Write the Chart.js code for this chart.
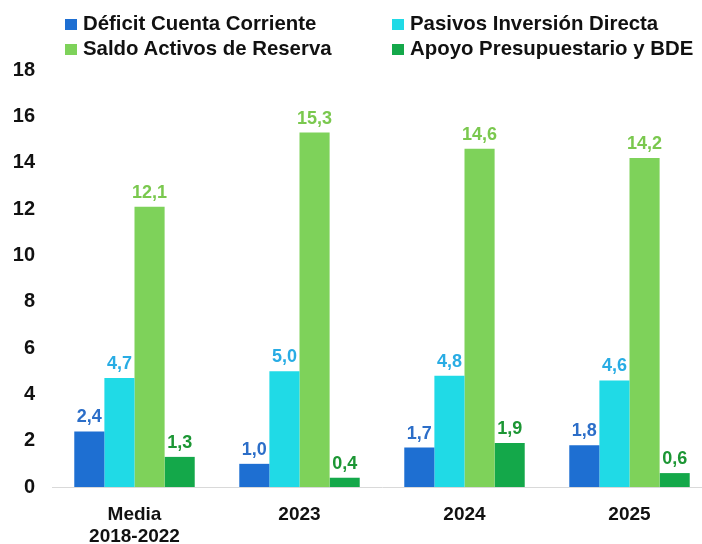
<!DOCTYPE html>
<html>
<head>
<meta charset="utf-8">
<script src="https://cdn.jsdelivr.net/npm/chart.js@4/dist/chart.umd.min.js"></script>
<style>
  html, body { margin: 0; padding: 0; background: #fff; overflow: hidden; }
  #wrap { position: relative; width: 712px; height: 544px; }
  #leyenda { position: absolute; left: 0; top: 0; width: 712px; height: 60px;
             font-family: "Liberation Sans", Arial, sans-serif; font-weight: bold; font-size: 20.4px; color: #111; }
  .item { position: absolute; white-space: nowrap; line-height: 24px; }
  .caja { display: inline-block; width: 12px; height: 11px; margin-right: 6px; vertical-align: 0px; }
</style>
</head>
<body>
<div id="wrap">
  <canvas id="grafico" width="712" height="544"></canvas>
  <div id="leyenda"></div>
</div>
<script>
// datos del grafico
var categorias = [["Media", "2018-2022"], "2023", "2024", "2025"];
var nombres = ["Déficit Cuenta Corriente", "Pasivos Inversión Directa", "Saldo Activos de Reserva", "Apoyo Presupuestario y BDE"];
var deficit = [2.4, 1.0, 1.7, 1.8];
var pasivos = [4.7, 5.0, 4.8, 4.6];
var saldo = [12.1, 15.3, 14.6, 14.2];
var apoyo = [1.3, 0.4, 1.9, 0.6];

var coloresBarra = ["rgb(30,111,210)", "rgb(32,218,230)", "rgb(126,210,90)", "rgb(20,168,74)"];
var coloresTexto = ["rgb(44,110,200)", "rgb(40,172,228)", "rgb(122,200,78)", "rgb(28,150,52)"];

var series = [deficit, pasivos, saldo, apoyo];
var conjuntos = [];
for (var i = 0; i < series.length; i++) {
    conjuntos.push({label: nombres[i], data: series[i], backgroundColor: coloresBarra[i],
                    barPercentage: 1, categoryPercentage: 0.73});
}

// leyenda en dos columnas
var posLeyenda = [[65, 11], [392, 11], [65, 36], [392, 36]];
var ley = document.getElementById("leyenda");
for (var i = 0; i < nombres.length; i++) {
    var d = document.createElement("div");
    d.className = "item";
    d.style.left = posLeyenda[i][0] + "px";
    d.style.top = posLeyenda[i][1] + "px";
    d.innerHTML = "<span class='caja' style='background:" + coloresBarra[i] + "'></span>" + nombres[i];
    ley.appendChild(d);
}

// etiquetas de valor encima de cada barra
var etiquetas = {
    id: "etiquetas",
    afterDatasetsDraw: function(chart) {
        var ctx = chart.ctx;
        ctx.save();
        ctx.font = "bold 18px 'Liberation Sans', Arial, sans-serif";
        ctx.textAlign = "center";
        ctx.textBaseline = "alphabetic";
        chart.data.datasets.forEach(function(ds, k) {
            var meta = chart.getDatasetMeta(k);
            ctx.fillStyle = coloresTexto[k];
            meta.data.forEach(function(barra, j) {
                ctx.fillText(ds.data[j].toFixed(1).replace(".", ","), barra.x, barra.y - 9);
            });
        });
        ctx.restore();
    }
};

new Chart(document.getElementById("grafico"), {
    type: "bar",
    data: {labels: categorias, datasets: conjuntos},
    plugins: [etiquetas],
    options: {
        responsive: false,
        animation: false,
        layout: {padding: {top: 70, right: 0, left: 0, bottom: 0}},
        plugins: {legend: {display: false}, tooltip: {enabled: false}},
        scales: {
            y: {
                min: 0, max: 18,
                ticks: {stepSize: 2, padding: 17, color: "#111",
                        font: {family: "'Liberation Sans', Arial, sans-serif", size: 20, weight: "bold"}},
                grid: {display: false, drawTicks: false},
                border: {display: false},
                afterFit: function(scale) { scale.width = 52; }
            },
            x: {
                ticks: {padding: 8, color: "#111",
                        font: {family: "'Liberation Sans', Arial, sans-serif", size: 19, weight: "bold"}},
                grid: {display: false},
                border: {display: true, color: "#d9d9d9", width: 1},
                afterFit: function(scale) { scale.height = 57; }
            }
        }
    }
});
</script>
</body>
</html>
